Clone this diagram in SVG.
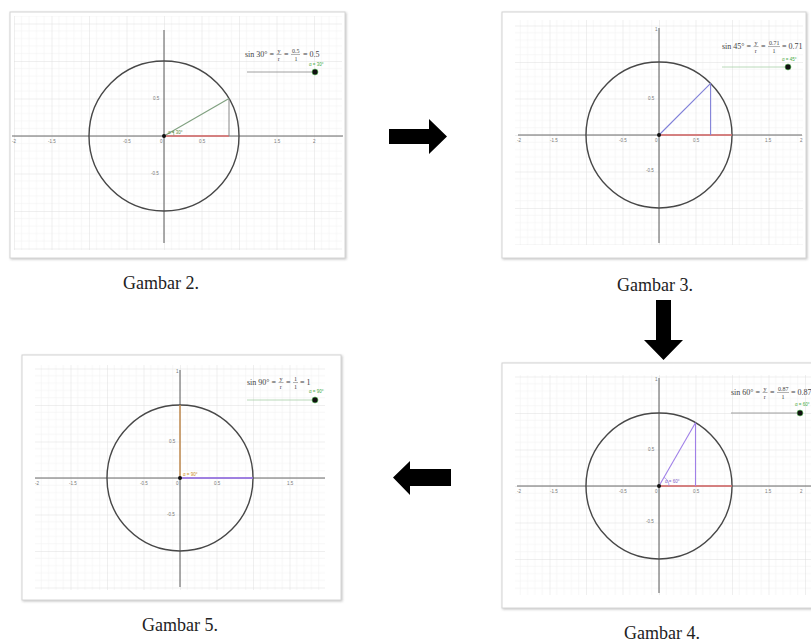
<svg xmlns="http://www.w3.org/2000/svg" width="811" height="642" viewBox="0 0 811 642">
<style>
.frame{fill:#fff;stroke:#d4d4d4;stroke-width:1;filter:url(#sh)}
.axis{stroke:#6a6a6a;stroke-width:1.1;fill:none}
.circ{fill:none;stroke:#474747;stroke-width:1.4}
.tick{font-family:"Liberation Sans",Arial,sans-serif;font-size:4.5px;fill:#777}
.fm{font-family:"Liberation Serif","Times New Roman",serif;font-size:8px;fill:#444}
.fs{font-size:6px}
.fl{stroke:#666;stroke-width:0.5}
.sl{stroke:#888;stroke-width:0.8}
.lbl{font-family:"Liberation Sans",Arial,sans-serif;font-size:4.5px}
.cap{font-family:"Liberation Serif","Times New Roman",serif;font-size:18px;fill:#222;text-anchor:middle}
.red{stroke:#e07070;stroke-width:1.6}
.dot{fill:#111}
.arrow{fill:#000}
</style>
<defs>
<filter id="sh" x="-5%" y="-5%" width="110%" height="110%">
<feDropShadow dx="1" dy="1" stdDeviation="1.2" flood-color="#888" flood-opacity="0.5"/>
</filter>
<pattern id="p1" patternUnits="userSpaceOnUse" x="164" y="136" width="37.5" height="37.5">
<path d="M7.5 0V37.5M15 0V37.5M22.5 0V37.5M30 0V37.5M0 7.5H37.5M0 15H37.5M0 22.5H37.5M0 30H37.5" stroke="#f1f1f1" stroke-width="0.6" fill="none"/>
<path d="M0 0V37.5M0 0H37.5" stroke="#d8d8d8" stroke-width="0.8" fill="none"/>
</pattern>
<pattern id="p2" patternUnits="userSpaceOnUse" x="659" y="135" width="36.5" height="36.5">
<path d="M7.3 0V36.5M14.6 0V36.5M21.9 0V36.5M29.2 0V36.5M0 7.3H36.5M0 14.6H36.5M0 21.9H36.5M0 29.2H36.5" stroke="#f1f1f1" stroke-width="0.6" fill="none"/>
<path d="M0 0V36.5M0 0H36.5" stroke="#d8d8d8" stroke-width="0.8" fill="none"/>
</pattern>
<pattern id="p3" patternUnits="userSpaceOnUse" x="180" y="478" width="36.5" height="36.5">
<path d="M7.3 0V36.5M14.6 0V36.5M21.9 0V36.5M29.2 0V36.5M0 7.3H36.5M0 14.6H36.5M0 21.9H36.5M0 29.2H36.5" stroke="#f1f1f1" stroke-width="0.6" fill="none"/>
<path d="M0 0V36.5M0 0H36.5" stroke="#d8d8d8" stroke-width="0.8" fill="none"/>
</pattern>
<pattern id="p4" patternUnits="userSpaceOnUse" x="659" y="486" width="36.5" height="36.5">
<path d="M7.3 0V36.5M14.6 0V36.5M21.9 0V36.5M29.2 0V36.5M0 7.3H36.5M0 14.6H36.5M0 21.9H36.5M0 29.2H36.5" stroke="#f1f1f1" stroke-width="0.6" fill="none"/>
<path d="M0 0V36.5M0 0H36.5" stroke="#d8d8d8" stroke-width="0.8" fill="none"/>
</pattern>
</defs>
<rect width="811" height="642" fill="#fff"/>

<g id="gambar2">
<rect class="frame" x="10" y="12" width="335" height="246"/>
<rect x="14" y="16" width="328" height="234" fill="url(#p1)"/>
<path class="axis" d="M12 136H343M164 30V243"/>
<g class="tick">
<text x="12" y="143">-2</text><text x="48" y="143">-1.5</text><text x="123" y="143">-0.5</text><text x="160" y="143">0</text><text x="199" y="143">0.5</text><text x="274" y="143">1.5</text><text x="313" y="143">2</text>
<text x="153" y="100">0.5</text><text x="151" y="175">-0.5</text>
</g>
<circle class="circ" cx="164" cy="136" r="75"/>
<line class="red" x1="164" y1="136" x2="229" y2="136"/>
<line x1="164" y1="136" x2="229" y2="98.5" stroke="#7fa07f" stroke-width="1.1"/>
<line x1="229" y1="98.5" x2="229" y2="136" stroke="#888" stroke-width="1"/>
<path d="M174 136A10 10 0 0 0 172.7 131" fill="none" stroke="#7fa07f" stroke-width="0.7"/>
<text class="lbl" x="168" y="134" fill="#5a8a3a">α = 30°</text>
<circle class="dot" cx="164" cy="136" r="2"/>
<g class="fm">
<text x="245" y="57">sin 30° =</text>
<text class="fs" x="277.5" y="53">y</text><line class="fl" x1="276.5" y1="54.5" x2="281.5" y2="54.5"/><text class="fs" x="277.8" y="60.5">r</text>
<text x="284" y="57">=</text>
<text class="fs" x="292" y="53">0.5</text><line class="fl" x1="291" y1="54.5" x2="300" y2="54.5"/><text class="fs" x="294.5" y="60.5">1</text>
<text x="303" y="57">= 0.5</text>
</g>
<line class="sl" x1="247" y1="72" x2="315" y2="72"/>
<circle cx="315" cy="72" r="3" fill="#111" stroke="#6c6" stroke-width="0.6"/>
<text class="lbl" x="309" y="66" fill="#4a4">α = 30°</text>
<text class="cap" x="161" y="289">Gambar 2.</text>
</g>

<g id="gambar3">
<rect class="frame" x="502" y="12" width="304" height="246"/>
<rect x="515" y="20" width="288" height="225" fill="url(#p2)"/>
<path class="axis" d="M518 135H802M659 28V243"/>
<g class="tick">
<text x="517" y="142">-2</text><text x="550" y="142">-1.5</text><text x="619" y="142">-0.5</text><text x="655" y="142">0</text><text x="693" y="142">0.5</text><text x="765" y="142">1.5</text><text x="800" y="142">2</text>
<text x="648" y="100">0.5</text><text x="646" y="172">-0.5</text><text x="655" y="31">1</text>
</g>
<circle class="circ" cx="659" cy="135" r="73"/>
<line class="red" x1="659" y1="135" x2="732" y2="135"/>
<line x1="659" y1="135" x2="710.6" y2="83.4" stroke="#8080d8" stroke-width="1.1"/>
<line x1="710.6" y1="83.4" x2="710.6" y2="135" stroke="#8080d8" stroke-width="1.1"/>
<circle class="dot" cx="659" cy="135" r="2"/>
<g class="fm">
<text x="722" y="49">sin 45° =</text>
<text class="fs" x="754.5" y="45">y</text><line class="fl" x1="753.5" y1="46.5" x2="758.5" y2="46.5"/><text class="fs" x="754.8" y="52.5">r</text>
<text x="761" y="49">=</text>
<text class="fs" x="769" y="45">0.71</text><line class="fl" x1="768" y1="46.5" x2="780" y2="46.5"/><text class="fs" x="772.5" y="52.5">1</text>
<text x="782" y="49">= 0.71</text>
</g>
<line x1="722" y1="67" x2="788" y2="67" stroke="#a8d0a8" stroke-width="0.8"/>
<circle cx="788" cy="67" r="3" fill="#111" stroke="#6c6" stroke-width="0.6"/>
<text class="lbl" x="782" y="61" fill="#4a4">α = 45°</text>
<text class="cap" x="655" y="291">Gambar 3.</text>
</g>

<g id="gambar5">
<rect class="frame" x="22" y="355" width="319" height="245"/>
<rect x="35" y="365" width="290" height="225" fill="url(#p3)"/>
<path class="axis" d="M35 478H325M180 370V587"/>
<g class="tick">
<text x="35" y="485">-2</text><text x="69" y="485">-1.5</text><text x="140" y="485">-0.5</text><text x="176" y="485">0</text><text x="214" y="485">0.5</text><text x="287" y="485">1.5</text>
<text x="169" y="443">0.5</text><text x="167" y="516">-0.5</text><text x="176" y="373">1</text>
</g>
<circle class="circ" cx="180" cy="478" r="73"/>
<line x1="180" y1="478" x2="180" y2="405" stroke="#eaa050" stroke-width="1.1"/>
<line x1="180" y1="478" x2="253" y2="478" stroke="#9a70f0" stroke-width="1.6"/>
<text class="lbl" x="183" y="476" fill="#c98a20">α = 90°</text>
<circle class="dot" cx="180" cy="478" r="2"/>
<g class="fm">
<text x="247" y="385">sin 90° =</text>
<text class="fs" x="279.5" y="381">y</text><line class="fl" x1="278.5" y1="382.5" x2="283.5" y2="382.5"/><text class="fs" x="279.8" y="388.5">r</text>
<text x="286" y="385">=</text>
<text class="fs" x="294" y="381">1</text><line class="fl" x1="293" y1="382.5" x2="298" y2="382.5"/><text class="fs" x="294" y="388.5">1</text>
<text x="300" y="385">= 1</text>
</g>
<line x1="247" y1="400" x2="315" y2="400" stroke="#a8d0a8" stroke-width="0.8"/>
<circle cx="315" cy="400" r="3" fill="#111" stroke="#6c6" stroke-width="0.6"/>
<text class="lbl" x="309" y="393" fill="#4a4">α = 90°</text>
<text class="cap" x="180" y="631">Gambar 5.</text>
</g>

<g id="gambar4">
<rect class="frame" x="502" y="363" width="312" height="245"/>
<rect x="515" y="375" width="296" height="220" fill="url(#p4)"/>
<path class="axis" d="M517 486H811M659 378V593"/>
<g class="tick">
<text x="517" y="493">-2</text><text x="550" y="493">-1.5</text><text x="619" y="493">-0.5</text><text x="655" y="493">0</text><text x="693" y="493">0.5</text><text x="765" y="493">1.5</text><text x="800" y="493">2</text>
<text x="648" y="451">0.5</text><text x="646" y="523">-0.5</text><text x="655" y="381">1</text>
</g>
<circle class="circ" cx="659" cy="486" r="73"/>
<line class="red" x1="659" y1="486" x2="732" y2="486"/>
<line x1="659" y1="486" x2="695.5" y2="422.8" stroke="#a080e8" stroke-width="1.1"/>
<line x1="695.5" y1="422.8" x2="695.5" y2="486" stroke="#a080e8" stroke-width="1.1"/>
<path d="M669 486A10 10 0 0 0 664 477.3" fill="none" stroke="#a080e8" stroke-width="0.7"/>
<text class="lbl" x="665" y="483" fill="#8060c8">α = 60°</text>
<circle class="dot" cx="659" cy="486" r="2"/>
<g class="fm">
<text x="731" y="395">sin 60° =</text>
<text class="fs" x="763.5" y="391">y</text><line class="fl" x1="762.5" y1="392.5" x2="767.5" y2="392.5"/><text class="fs" x="763.8" y="398.5">r</text>
<text x="770" y="395">=</text>
<text class="fs" x="778" y="391">0.87</text><line class="fl" x1="777" y1="392.5" x2="789" y2="392.5"/><text class="fs" x="781.5" y="398.5">1</text>
<text x="791" y="395">= 0.87</text>
</g>
<line class="sl" x1="731" y1="413" x2="800" y2="413"/>
<circle cx="800" cy="413" r="3" fill="#111" stroke="#6c6" stroke-width="0.6"/>
<text class="lbl" x="795" y="406" fill="#4a4">α = 60°</text>
<text class="cap" x="662" y="639">Gambar 4.</text>
</g>

<g id="connectors">
<polygon class="arrow" points="389,129 429,129 429,119 447,136.5 429,154 429,144 389,144"/>
<polygon class="arrow" points="656,300 671,300 671,340 683,340 663.5,360 644,340 656,340"/>
<polygon class="arrow" points="451,469 451,486 410,486 410,495 393,477.5 410,461 410,469"/>
</g>
</svg>
